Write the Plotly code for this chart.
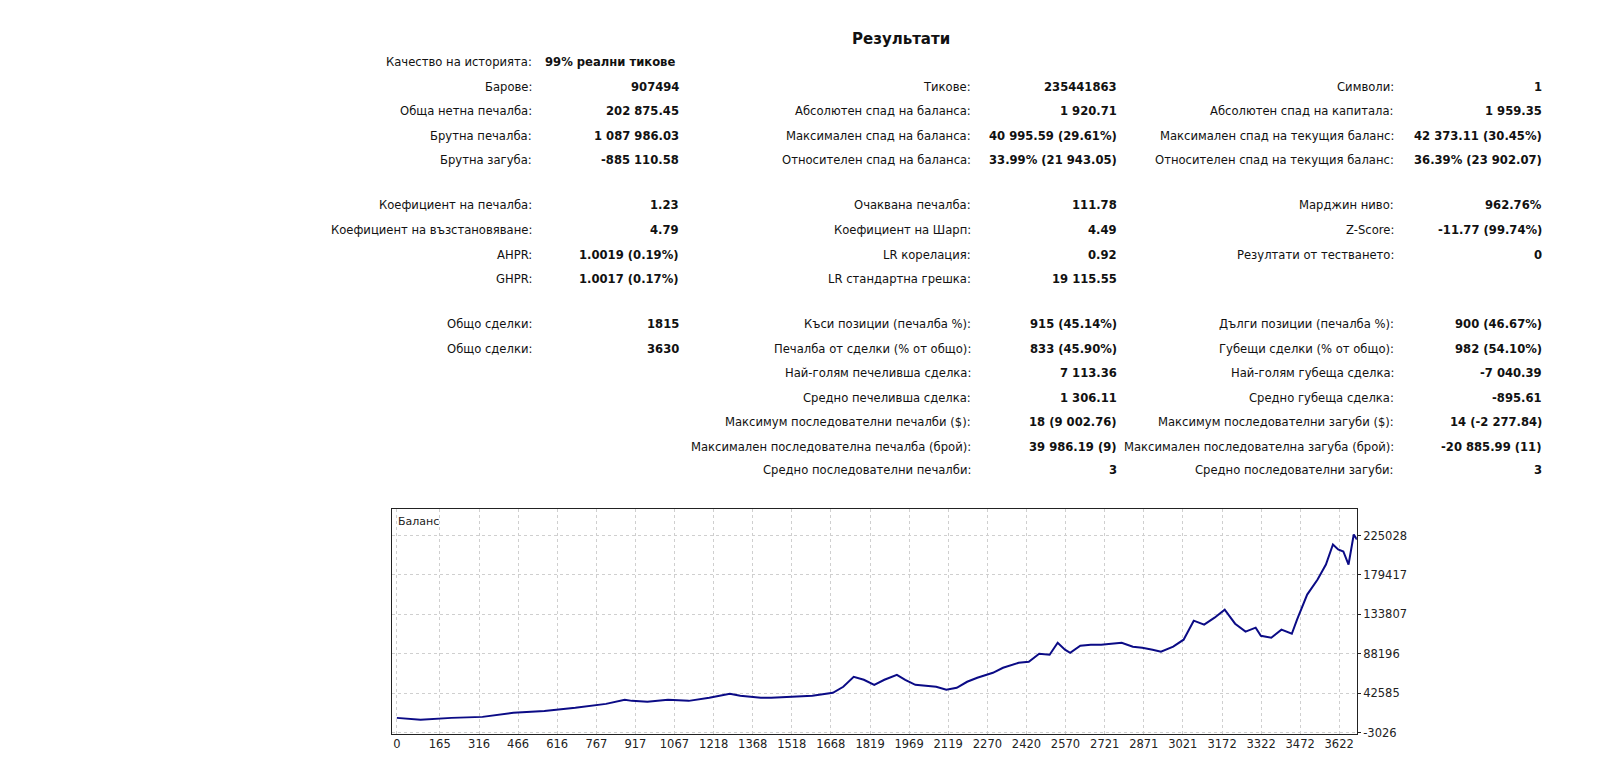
import plotly.graph_objects as go

W, H = 1617, 778
S = 1617 / 1568

# balance curve (trade number, balance)
trades = [0, 91, 210, 329, 448, 567, 686, 804, 876, 904, 963, 1042, 1122, 1201, 1280, 1320,
          1399, 1439, 1518, 1597, 1676, 1716, 1756, 1795, 1835, 1874, 1922, 1954, 1993, 2073,
          2112, 2152, 2192, 2231, 2291, 2330, 2390, 2429, 2469, 2509, 2540, 2568, 2588, 2627,
          2667, 2707, 2746, 2786, 2829, 2865, 2905, 2937, 2984, 3024, 3063, 3103, 3143, 3182,
          3222, 3262, 3301, 3321, 3361, 3400, 3440, 3460, 3499, 3539, 3571, 3598, 3618, 3638,
          3658, 3678, 3690]
balance = [13900, 11600, 13900, 15060, 19700, 22000, 25500, 30100, 34800, 33600, 32500, 34800,
           33600, 37100, 41800, 39400, 37100, 37100, 38300, 39400, 42900, 49900, 61400, 58000,
           52200, 58000, 63800, 58000, 52200, 49900, 46400, 48700, 55700, 60300, 66100, 71900,
           77700, 78900, 88200, 87000, 100900, 92800, 89300, 97400, 98600, 98600, 99700, 100900,
           96300, 95100, 92800, 90500, 96300, 104400, 126400, 121800, 129900, 139200, 122900,
           113700, 118300, 109000, 106700, 116000, 111300, 127600, 156600, 174000, 191400,
           214600, 208800, 206500, 191400, 226200, 220400]

x_ticks = [0, 165, 316, 466, 616, 767, 917, 1067, 1218, 1368, 1518, 1668, 1819, 1969, 2119,
           2270, 2420, 2570, 2721, 2871, 3021, 3172, 3322, 3472, 3622]
y_ticks = [-3026, 42585, 88196, 133807, 179417, 225028]

rows = [
    # (y px, label1, value1, label2, value2, label3, value3)
    (77, "Барове:", "907494", "Тикове:", "235441863", "Символи:", "1"),
    (101, "Обща нетна печалба:", "202 875.45", "Абсолютен спад на баланса:", "1 920.71", "Абсолютен спад на капитала:", "1 959.35"),
    (125, "Брутна печалба:", "1 087 986.03", "Максимален спад на баланса:", "40 995.59 (29.61%)", "Максимален спад на текущия баланс:", "42 373.11 (30.45%)"),
    (149, "Брутна загуба:", "-885 110.58", "Относителен спад на баланса:", "33.99% (21 943.05)", "Относителен спад на текущия баланс:", "36.39% (23 902.07)"),
    (193, "Коефициент на печалба:", "1.23", "Очаквана печалба:", "111.78", "Марджин ниво:", "962.76%"),
    (217, "Коефициент на възстановяване:", "4.79", "Коефициент на Шарп:", "4.49", "Z-Score:", "-11.77 (99.74%)"),
    (241, "AHPR:", "1.0019 (0.19%)", "LR корелация:", "0.92", "Резултати от тестването:", "0"),
    (265, "GHPR:", "1.0017 (0.17%)", "LR стандартна грешка:", "19 115.55", "", ""),
    (309, "Общо сделки:", "1815", "Къси позиции (печалба %):", "915 (45.14%)", "Дълги позиции (печалба %):", "900 (46.67%)"),
    (333, "Общо сделки:", "3630", "Печалба от сделки (% от общо):", "833 (45.90%)", "Губещи сделки (% от общо):", "982 (54.10%)"),
    (357, "", "", "Най-голям печеливша сделка:", "7 113.36", "Най-голям губеща сделка:", "-7 040.39"),
    (381, "", "", "Средно печеливша сделка:", "1 306.11", "Средно губеща сделка:", "-895.61"),
    (405, "", "", "Максимум последователни печалби ($):", "18 (9 002.76)", "Максимум последователни загуби ($):", "14 (-2 277.84)"),
    (429, "", "", "Максимален последователна печалба (брой):", "39 986.19 (9)", "Максимален последователна загуба (брой):", "-20 885.99 (11)"),
    (451, "", "", "Средно последователни печалби:", "3", "Средно последователни загуби:", "3"),
]
col_x = [510, 653, 936, 1077, 1346, 1489]

fig = go.Figure(go.Scatter(x=trades, y=balance, mode="lines",
                           line=dict(color="#0b0b86", width=2), hoverinfo="skip"))

ann = []
def txt(x, y, s, bold=False, size=12, anchor="right"):
    ann.append(dict(x=x * S / W, y=1 - y * S / H, xref="paper", yref="paper",
                    text=f"<b>{s}</b>" if bold else s,
                    showarrow=False, xanchor=anchor, yanchor="middle",
                    font=dict(size=size, color="#111", family="DejaVu Sans")))

txt(866, 30, "Результати", bold=True, size=15, anchor="center")
txt(510, 53, "Качество на историята:", size=11.6)
txt(519, 53, "99% реални тикове", bold=True, size=11.6, anchor="left")
for r in rows:
    for i, s in enumerate(r[1:]):
        if s:
            txt(col_x[i], r[0], s, bold=(i % 2 == 1), size=11.6)
ann.append(dict(x=0.005, y=0.985, xref="x domain", yref="y domain", text="Баланс", showarrow=False,
                xanchor="left", yanchor="top", font=dict(size=11, color="#222", family="DejaVu Sans")))

fig.update_layout(
    width=W, height=H, margin=dict(l=0, r=0, t=0, b=0),
    paper_bgcolor="white", plot_bgcolor="white", showlegend=False, annotations=ann,
    xaxis=dict(domain=[372 * S / W, 1308 * S / W], range=[-20, 3690], tickvals=x_ticks,
               ticktext=[str(v) for v in x_ticks], showgrid=True, gridcolor="#cfcfcf",
               griddash="3px,3px", zeroline=False, showline=True, linecolor="#222", mirror=True,
               ticks="", tickfont=dict(size=11.5, color="#222", family="DejaVu Sans")),
    yaxis=dict(domain=[1 - 709 * S / H, 1 - 490 * S / H], range=[-4200, 255200], side="right",
               tickvals=y_ticks, ticktext=[str(v) for v in y_ticks], showgrid=True,
               gridcolor="#cfcfcf", griddash="3px,3px", zeroline=False, showline=True,
               linecolor="#222", mirror=True, ticks="outside", ticklen=3, tickcolor="#222",
               tickfont=dict(size=11.5, color="#222", family="DejaVu Sans")),
)
fig.write_html("out.html")
